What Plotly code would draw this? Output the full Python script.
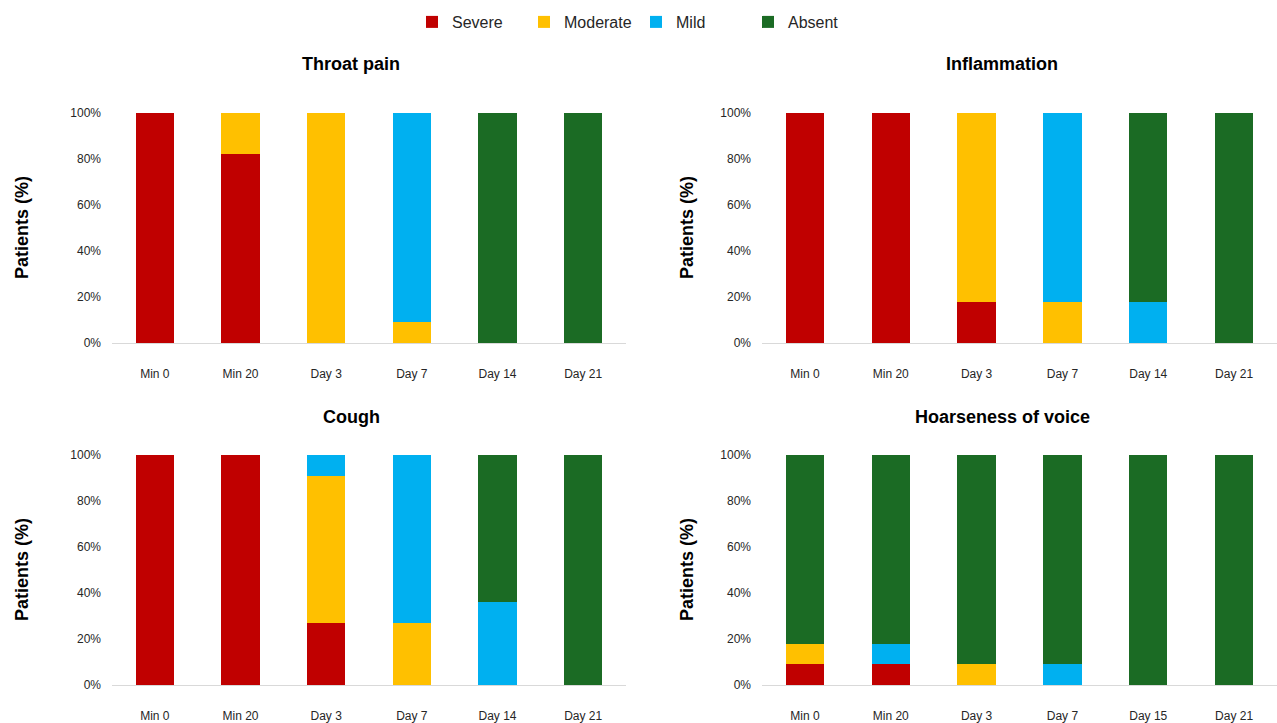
import plotly.graph_objects as go

categories_a = ["Min 0", "Min 20", "Day 3", "Day 7", "Day 14", "Day 21"]
categories_h = ["Min 0", "Min 20", "Day 3", "Day 7", "Day 15", "Day 21"]

levels = ["Severe", "Moderate", "Mild", "Absent"]
colors = ["#C00000", "#FFC000", "#00B0F0", "#1B6B24"]

y_tick_vals = [0, 20, 40, 60, 80, 100]
y_tick_text = ["0%", "20%", "40%", "60%", "80%", "100%"]

throat = {
    "Severe":   [100, 82, 0, 0, 0, 0],
    "Moderate": [0, 18, 100, 9, 0, 0],
    "Mild":     [0, 0, 0, 91, 0, 0],
    "Absent":   [0, 0, 0, 0, 100, 100],
}
inflammation = {
    "Severe":   [100, 100, 18, 0, 0, 0],
    "Moderate": [0, 0, 82, 18, 0, 0],
    "Mild":     [0, 0, 0, 82, 18, 0],
    "Absent":   [0, 0, 0, 0, 82, 100],
}
cough = {
    "Severe":   [100, 100, 27, 0, 0, 0],
    "Moderate": [0, 0, 64, 27, 0, 0],
    "Mild":     [0, 0, 9, 73, 36, 0],
    "Absent":   [0, 0, 0, 0, 64, 100],
}
hoarseness = {
    "Severe":   [9, 9, 0, 0, 0, 0],
    "Moderate": [9, 0, 9, 0, 0, 0],
    "Mild":     [0, 9, 0, 9, 0, 0],
    "Absent":   [82, 82, 91, 91, 100, 100],
}

panels = [
    ("Throat pain", throat, categories_a, "x", "y"),
    ("Inflammation", inflammation, categories_a, "x2", "y2"),
    ("Cough", cough, categories_a, "x3", "y3"),
    ("Hoarseness of voice", hoarseness, categories_h, "x4", "y4"),
]

W, H = 1277, 723
FONT = "Liberation Sans, Arial, sans-serif"
TXT = "#262626"

fig = go.Figure()
for i, (title, data, cats, xa, ya) in enumerate(panels):
    for lvl, col in zip(levels, colors):
        fig.add_trace(go.Bar(
            x=cats, y=data[lvl], name=lvl, marker_color=col,
            marker_line_width=0, xaxis=xa, yaxis=ya,
            legendgroup=lvl, showlegend=(i == 0),
        ))

def px_x(p):
    return p / W

def px_y(p):
    return 1 - p / H

x_doms = [(px_x(112), px_x(626)), (px_x(762), px_x(1277))]
y_doms = [(px_y(343), px_y(113)), (px_y(685), px_y(455))]

layout = dict(
    width=W, height=H,
    margin=dict(l=0, r=0, t=0, b=0, autoexpand=False),
    paper_bgcolor="white", plot_bgcolor="white",
    barmode="stack", bargap=0.555,
    font=dict(family=FONT, color=TXT, size=12),
    showlegend=True,
    legend=dict(orientation="h", x=px_x(636), xanchor="center", y=px_y(22), yanchor="middle",
                font=dict(size=16, color=TXT), traceorder="normal",
                entrywidth=67, itemwidth=30),
)

annotations = []
for i in range(4):
    r, c = divmod(i, 2)
    sfx = "" if i == 0 else str(i + 1)
    layout["xaxis" + sfx] = dict(
        domain=x_doms[c], anchor="y" + sfx, showgrid=False, zeroline=False,
        showline=True, linecolor="#D9D9D9", linewidth=1, automargin=False,
        ticks="", ticklabelstandoff=20, tickfont=dict(size=12, color=TXT),
        fixedrange=True,
    )
    layout["yaxis" + sfx] = dict(
        domain=y_doms[r], anchor="x" + sfx, range=[0, 100], automargin=False,
        tickmode="array", tickvals=y_tick_vals, ticktext=y_tick_text,
        showgrid=False, zeroline=False, showline=False, ticks="",
        ticklabelstandoff=10, tickfont=dict(size=12, color=TXT), fixedrange=True,
    )
    title = panels[i][0]
    cx = 351 if c == 0 else 1002
    cy = 64 if r == 0 else 417
    annotations.append(dict(
        text="<b>%s</b>" % title, x=px_x(cx), y=px_y(cy), xref="paper", yref="paper",
        xanchor="center", yanchor="middle", showarrow=False,
        font=dict(size=18, color="#000000", family=FONT),
    ))
    ax = 22 if c == 0 else 687
    ay = 228 if r == 0 else 570
    annotations.append(dict(
        text="<b>Patients (%)</b>", x=px_x(ax), y=px_y(ay), xref="paper", yref="paper",
        xanchor="center", yanchor="middle", showarrow=False, textangle=-90,
        font=dict(size=18, color="#000000", family=FONT),
    ))
layout["annotations"] = annotations

fig.update_layout(**layout)
fig.write_html("out.html")
